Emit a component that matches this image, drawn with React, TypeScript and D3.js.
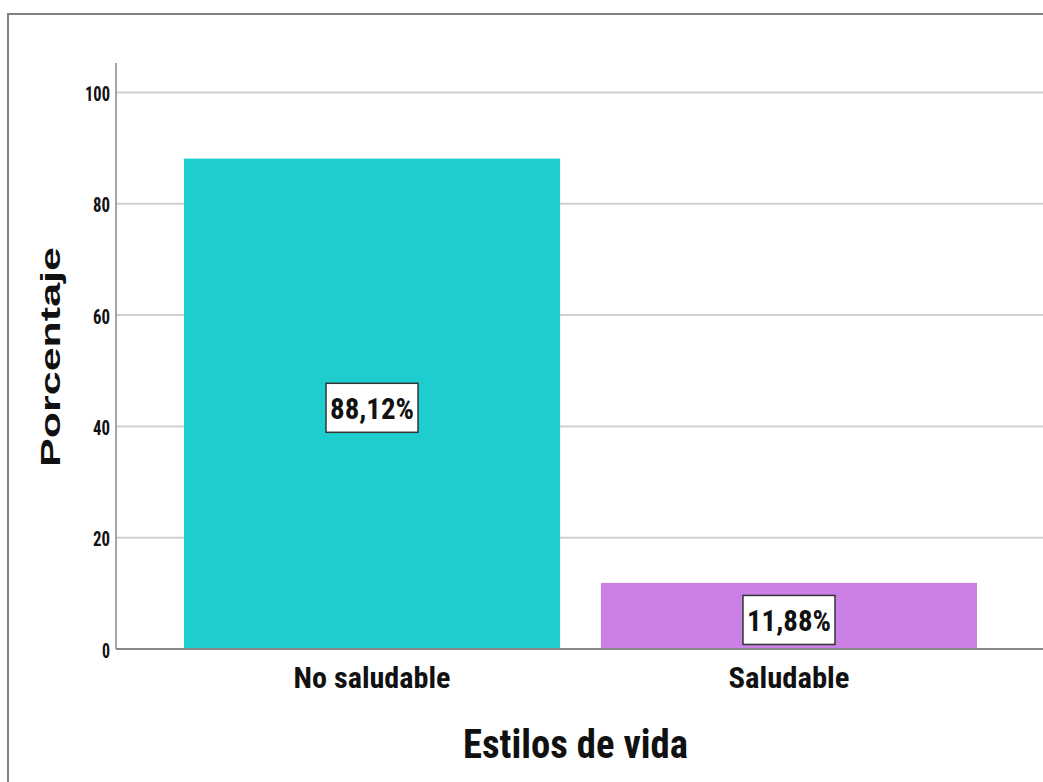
import React from "react";
import * as d3 from "d3";

const categories = ["No saludable", "Saludable"];
const values = [88.12, 11.88];
const valueLabels = ["88,12%", "11,88%"];
const yTicks = [0, 20, 40, 60, 80, 100];
const colors = ["#1ecdcd", "#ca80e4"];

const W = 1043;
const H = 782;
const NARROW = "'Liberation Sans Narrow', 'Arial Narrow', 'Roboto Condensed', 'Liberation Sans', Arial, sans-serif";
const WIDE = "'Liberation Sans', Arial, Helvetica, sans-serif";

export default function App() {
  const x0 = 116;
  const x1 = 1045;
  const y = d3.scaleLinear().domain([0, 100]).range([649, 92.5]);
  const x = d3.scaleBand<string>().domain(categories).range([x0, x1]).paddingInner(0.098).paddingOuter(0.163);
  const tickWidths: Record<number, number> = { 0: 8, 20: 17, 40: 17, 60: 17, 80: 17, 100: 25 };
  const catWidths = [157, 121];
  const labelTextW = 84;

  return (
    <svg width={W} height={H} style={{ position: "absolute", left: 0, top: 0, background: "#fff" }}>
      <rect x={0} y={0} width={W} height={H} fill="#fff" />
      <rect x={8} y={14} width={1200} height={1000} fill="#fff" stroke="#808080" strokeWidth={2} />
      {yTicks.filter(t => t > 0).map(t => (
        <line key={"g" + t} x1={x0} x2={x1} y1={y(t)} y2={y(t)} stroke="#d0d0d0" strokeWidth={2} />
      ))}
      {categories.map((c, i) => (
        <rect key={"b" + c} x={x(c)} y={y(values[i])} width={x.bandwidth()} height={y(0) - y(values[i])} fill={colors[i]} />
      ))}
      <line x1={x0} x2={x0} y1={y(105.3)} y2={y(0)} stroke="#888" strokeWidth={1.5} />
      <line x1={x0} x2={x1} y1={y(0)} y2={y(0)} stroke="#888" strokeWidth={2} />
      {yTicks.map(t => (
        <text key={"t" + t} x={110} y={y(t) + 8.5} textAnchor="end" fontFamily={NARROW} fontWeight="bold" fontSize={20}
          textLength={tickWidths[t]} lengthAdjust="spacingAndGlyphs" fill="#111">{t}</text>
      ))}
      {categories.map((c, i) => {
        const cx = (x(c) as number) + x.bandwidth() / 2;
        const cy = y(values[i] / 2) + 4;
        return (
          <g key={"l" + c}>
            <rect x={cx - 46} y={cy - 24.5} width={92} height={49} fill="#fff" stroke="#333" strokeWidth={1.5} />
            <text x={cx} y={cy + 11} textAnchor="middle" fontFamily={NARROW} fontWeight="bold" fontSize={30}
              textLength={labelTextW} lengthAdjust="spacingAndGlyphs" fill="#111">{valueLabels[i]}</text>
            <text x={cx} y={688} textAnchor="middle" fontFamily={NARROW} fontWeight="bold" fontSize={30}
              textLength={catWidths[i]} lengthAdjust="spacingAndGlyphs" fill="#111">{c}</text>
          </g>
        );
      })}
      <text x={575.5} y={758} textAnchor="middle" fontFamily={NARROW} fontWeight="bold" fontSize={41}
        textLength={225} lengthAdjust="spacingAndGlyphs" fill="#111">Estilos de vida</text>
      <text transform={`translate(60,357) rotate(-90)`} x={0} y={0} textAnchor="middle" fontFamily={WIDE} fontWeight="bold" fontSize={28}
        textLength={220} lengthAdjust="spacingAndGlyphs" fill="#111">Porcentaje</text>
    </svg>
  );
}
